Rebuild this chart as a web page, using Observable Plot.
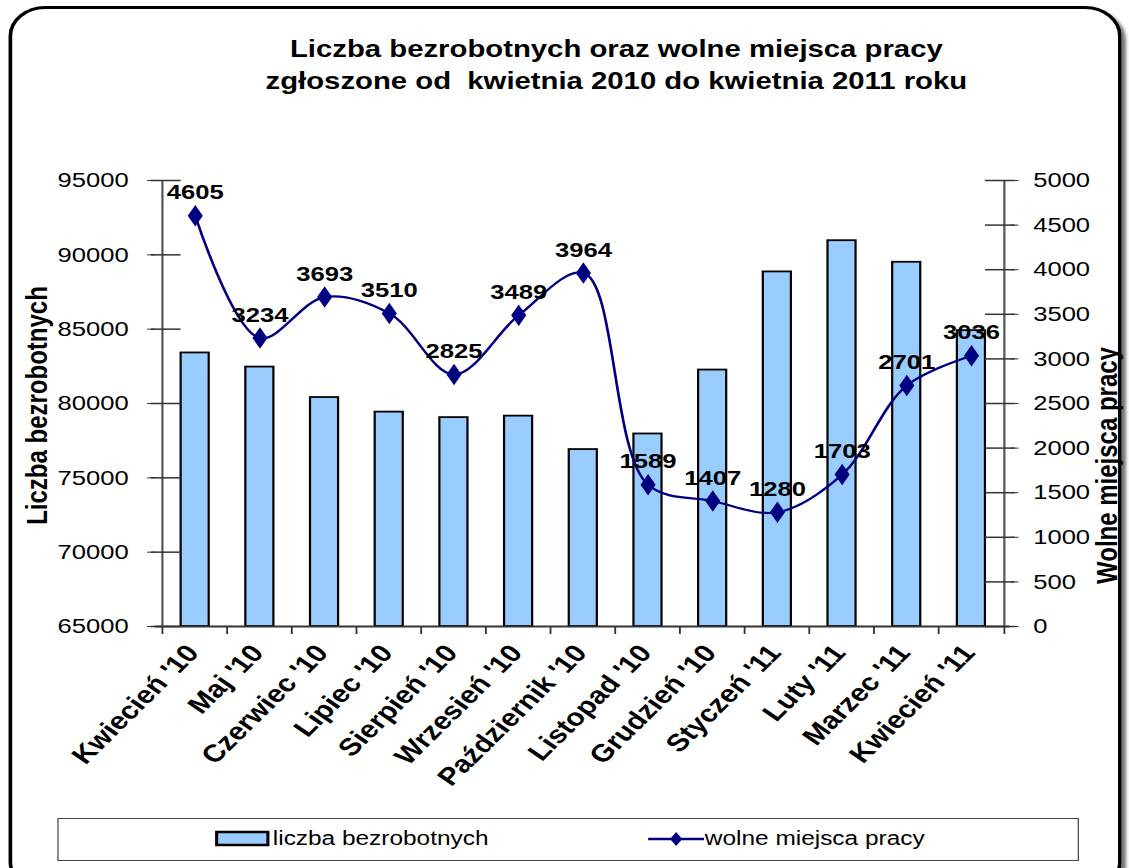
<!DOCTYPE html>
<html><head><meta charset="utf-8">
<script src="https://cdn.jsdelivr.net/npm/d3@7"></script>
<script src="https://cdn.jsdelivr.net/npm/@observablehq/plot@0.6"></script>
<style>
html,body{margin:0;background:#fff;overflow:hidden;font-family:"Liberation Sans",Arial,sans-serif;}
#wrap{position:relative;width:925px;height:868px;overflow:hidden;background:#fff;transform:scaleX(1.2205);transform-origin:0 0;}
#frame{position:absolute;left:6.5px;top:6px;width:906px;height:880px;border:3px solid #000;border-radius:30px;box-shadow:3px 4px 3px #777;}
#title{position:absolute;left:0;top:33px;width:1010px;text-align:center;font-weight:bold;font-size:24px;line-height:32px;white-space:pre;color:#000;}
#chart{position:absolute;left:0;top:0;}
#legend{position:absolute;left:46.5px;top:818px;width:835px;height:41px;border:1.5px solid #444;background:#fff;font-size:20px;}
.li{position:absolute;top:8px;display:flex;align-items:center;white-space:nowrap;}
</style></head>
<body><div id="wrap"><div id="frame"></div><div id="title">Liczba bezrobotnych oraz wolne miejsca pracy
zgłoszone od  kwietnia 2010 do kwietnia 2011 roku</div><div id="chart"></div>
<div id="legend">
<div class="li" style="left:128px"><svg width="46" height="20"><rect x="1.5" y="3" width="42" height="13" fill="#99ccff" stroke="#000" stroke-width="2.5"/></svg><span style="margin-left:2px">liczba bezrobotnych</span></div>
<div class="li" style="left:483px"><svg width="46" height="20"><line x1="0" y1="10" x2="46" y2="10" stroke="#000080" stroke-width="2.5"/><path d="M23,3 L28,10 L23,17 L18,10Z" fill="#000080"/></svg><span style="margin-left:1px">wolne miejsca pracy</span></div>
</div></div>
<script>
const months = ["Kwiecień '10","Maj '10","Czerwiec '10","Lipiec '10","Sierpień '10","Wrzesień '10","Październik '10","Listopad '10","Grudzień '10","Styczeń '11","Luty '11","Marzec '11","Kwiecień '11"];
const unemployed = [83400,82450,80400,79420,79050,79150,76900,77950,82250,88850,90950,89500,84900];
const vacancies = [4605,3234,3693,3510,2825,3489,3964,1589,1407,1280,1703,2701,3036];
const leftTicks = [65000,70000,75000,80000,85000,90000,95000];
const rightTicks = [0,500,1000,1500,2000,2500,3000,3500,4000,4500,5000];

const W = 925, H = 810, ML = 127, MR = 98, MT = 180, MB = 184;
const step = (W - ML - MR) / months.length;
const yMin = 65000, yMax = 95000, rMax = 5000;
const toLeft = v => yMin + v * (yMax - yMin) / rMax;
const toRight = y => Math.round((y - yMin) * rMax / (yMax - yMin));

const bars = months.map((m, i) => ({m, v: unemployed[i]}));
const line = months.map((m, i) => ({m, v: vacancies[i], y: toLeft(vacancies[i])}));
const last = months[months.length - 1];
const first = months[0];
const font = "Liberation Sans, Arial, sans-serif";

const chart = Plot.plot({
  width: W, height: H, marginLeft: ML, marginRight: MR, marginTop: MT, marginBottom: MB,
  style: {fontFamily: font, background: "transparent", color: "#000"},
  x: {type: "band", domain: months, paddingInner: 0.573, paddingOuter: 0.2865, label: null},
  y: {domain: [yMin, yMax], label: null},
  marks: [
    Plot.rectY(bars, {x: "m", y1: yMin, y2: "v", fill: "#99ccff", stroke: "#000", strokeWidth: 1.8}),
    Plot.ruleY([yMin], {stroke: "#333", strokeWidth: 2}),
    Plot.ruleX([first], {x: d => d, dx: -step / 2, y1: yMin, y2: yMax, stroke: "#555", strokeWidth: 1.8}),
    Plot.ruleX([last], {x: d => d, dx: step / 2, y1: yMin, y2: yMax, stroke: "#555", strokeWidth: 1.8}),
    // x boundary ticks
    Plot.ruleX(months, {x: d => d, dx: -step / 2, y1: yMin, y2: yMin, insetBottom: -8, stroke: "#333", strokeWidth: 1.5}),
    Plot.ruleX([last], {x: d => d, dx: step / 2, y1: yMin, y2: yMin, insetBottom: -8, stroke: "#333", strokeWidth: 1.5}),
    // left axis
    Plot.axisY(leftTicks, {anchor: "left", tickSize: 6.5, tickPadding: 15.5, fontSize: 21, tickFormat: d => String(d), stroke: "#333"}),
    Plot.tickY(leftTicks, {x: () => first, y: d => d, insetRight: step - 6.5, stroke: "#333", strokeWidth: 1.5}),
    // right axis
    Plot.axisY(rightTicks.map(toLeft), {anchor: "right", tickSize: 6.5, tickPadding: 12.5, fontSize: 21, tickFormat: d => String(toRight(d)), stroke: "#333"}),
    Plot.tickY(rightTicks.map(toLeft), {x: () => last, y: d => d, insetLeft: step - 6.5, stroke: "#333", strokeWidth: 1.5}),
    // x labels
    Plot.axisX(months, {anchor: "bottom", tickSize: 0, tickPadding: 22, tickRotate: -50, dx: -2, fontSize: 24.5, fontWeight: "bold"}),
    // vacancies line
    Plot.line(line, {x: "m", y: "y", curve: "catmull-rom", stroke: "#000080", strokeWidth: 2.2}),
    Plot.dot(line, {x: "m", y: "y", symbol: "diamond", r: 6.5, fill: "#000080", stroke: "none"}),
    Plot.text(line, {x: "m", y: "y", text: d => String(d.v), dy: -23, fontSize: 21, fontWeight: "bold", fill: "#000"}),
    // axis titles
    Plot.text(["Liczba bezrobotnych"], {frameAnchor: "left", textAnchor: "middle", dx: -97, dy: 2, rotate: -90, fontSize: 24, fontWeight: "bold"}),
    Plot.text(["Wolne miejsca pracy"], {frameAnchor: "right", textAnchor: "middle", dx: 80, dy: 62, rotate: -90, fontSize: 24, fontWeight: "bold"})
  ]
});
document.getElementById("chart").appendChild(chart);
</script></body></html>
